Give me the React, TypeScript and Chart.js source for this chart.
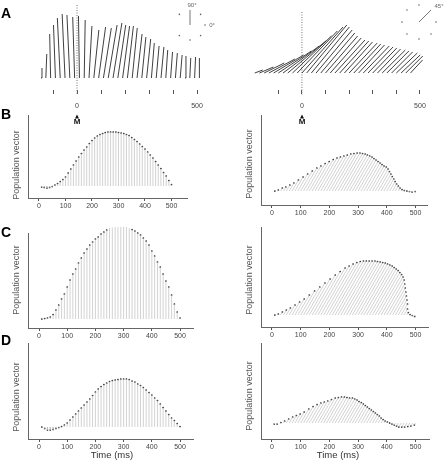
import React, { useEffect, useRef } from 'react';
import { Chart, registerables } from 'chart.js';

Chart.register(...registerables);
Chart.defaults.font.family = "'Liberation Sans', Arial, Helvetica, sans-serif";

// ---------------- DATA ----------------
// base times (ms) of the population vectors in panels B–D
const binTimes = [
  10, 20, 30, 40, 50, 60, 70, 80, 90, 100, 110, 120, 130, 140, 150, 160, 170, 180, 190, 200,
  210, 220, 230, 240, 250, 260, 270, 280, 290, 300, 310, 320, 330, 340, 350, 360, 370, 380, 390, 400,
  410, 420, 430, 440, 450, 460, 470, 480, 490, 500,
];
const xTickValues = [0, 100, 200, 300, 400, 500];

// vector length (arbitrary units) per bin
const bLeftVector = [
  -1, -1.5, -2, -1.5, -0.5, 1, 2.5, 4.5, 6.5, 9, 13, 17, 21, 25, 29, 32.5, 36, 39, 42.5, 45.5,
  48, 50, 51.5, 52.5, 53.5, 54, 54, 54, 54, 53.5, 53, 52.5, 51.5, 50.5, 48.5, 46.5, 44.5, 42, 39.5, 37,
  34, 31, 28, 24.5, 21, 17.5, 13.5, 10, 5.5, 1.5,
];
const bRightVector = [
  0, 1, 3, 4, 6, 8, 11, 14, 17, 20, 23, 25, 27.5, 29.5, 31.5, 33, 34, 35, 36, 37,
  37.5, 38, 38, 37.5, 37, 36, 35, 34, 32.5, 31, 29.5, 28, 26.5, 25, 24, 22, 19.5, 17, 14.5, 12,
  9.5, 7, 5, 3, 1.5, 0.5, 0, -0.5, -1, -0.5,
];
const cLeftVector = [
  0, 0.5, 1, 2, 4.5, 9, 14, 20, 25, 32, 39, 45, 50, 56, 61, 66, 70, 74, 77, 80,
  82, 85, 87, 89, 91, 91.5, 92, 92, 92, 92, 92, 91, 89.5, 88, 86, 84, 81, 78, 74, 68,
  63, 57, 52, 45, 38, 32, 24, 15, 7, 1,
];
const cRightVector = [
  0, 1, 3, 5, 7, 10, 13, 16, 20, 24, 28, 32, 36, 40, 43.5, 47, 49, 51, 52.5, 53.5,
  54, 54, 54, 54, 54, 53.5, 53, 52.5, 52, 51, 50, 49, 47.5, 46, 44.5, 42.5, 40.5, 38, 35, 31,
  27, 23, 19, 15, 11, 6, 2.5, 0.5, -0.5, -1.5,
];
const dLeftVector = [
  0, -1.5, -3, -3, -2.5, -1.5, -0.5, 0.5, 2, 4, 7, 10, 13, 16, 19, 22, 25, 28, 31.5, 35,
  38, 40.5, 42.5, 44, 45.5, 46.5, 47, 47.5, 48, 48, 48, 47.5, 46, 45, 43, 41.5, 39.5, 37, 34.5, 32,
  29, 26.5, 23, 19.5, 16, 12.5, 9, 6.5, 3.5, 0.5,
];
const dRightVector = [
  -1, -1, 0.5, 2, 4, 6, 7.5, 9, 11, 14, 16.5, 18.5, 20, 21, 22, 23.5, 25, 25.5, 26, 26,
  25.5, 25, 25, 24, 23, 21.5, 20.5, 19, 17.5, 16, 14.5, 13, 11.5, 10, 8.5, 7, 5, 3.5, 2, 1,
  0, -1, -2, -3, -4, -4, -4, -3.5, -3, -2,
];

// panel A (single-trial vectors, 20 ms bins)
const rasterTickValues = [-100, 0, 100, 200, 300, 400, 500];
const rasterTickLabels = ['', '0', '', '', '', '', '500'];

const aLeftTimes = [
  -150, -130, -110, -90, -70, -50, -30, -10, 10, 30, 50, 70, 90, 110, 130, 150, 170,
  190, 210, 230, 250, 270, 290, 310, 330, 350, 370, 390, 410, 430, 450, 470, 490, 510,
];
const aLeftHeight = [
  10, 24, 44, 53, 60, 64, 63, 61, 62, 58, 52, 48, 51, 50, 53, 55, 53,
  52, 52, 50, 44, 41, 39, 35, 32, 31, 28, 26, 25, 23, 22, 20, 21, 20,
];
const aLeftShift = [
  4, 4, -4, -8, -12, -12, -12, -8, -4, 4, 12, 21, 29, 33, 37, 37, 33,
  29, 25, 21, 21, 17, 17, 12, 12, 12, 8, 8, 8, 8, 4, 4, 4, 0,
];

const aRightTimes = [
  -200, -180, -160, -140, -120, -100, -80, -60, -40, -20, 0, 20, 40, 60, 80, 100, 120,
  140, 160, 180, 200, 220, 240, 260, 280, 300, 320, 340, 360, 380, 400, 420, 440, 460,
];
const aRightHeight = [
  3, 6, 10, 14, 18, 22, 27, 32, 37, 42, 46, 48, 46, 43, 40, 37, 35,
  33, 32, 31, 30, 29, 28, 27, 26, 25, 24, 23, 22, 21, 20, 18, 17, 13,
];
const aRightShift = [
  34, 59, 85, 110, 127, 140, 153, 161, 165, 170, 174, 170, 161, 153, 144, 136, 131,
  127, 123, 119, 119, 114, 110, 110, 106, 102, 98, 98, 93, 89, 89, 81, 72, 51,
];

const directionLeft = 90; // degrees on screen
const directionRight = 60;

// ---------------- LAYOUT ----------------
type TextItem = {
  text: string; x: number; y: number; font: string; color?: string;
  align?: CanvasTextAlign; baseline?: CanvasTextBaseline; rot?: number;
};
type Compass = { cx: number; cy: number; r: number; pointer: number; skip: number[] };
type Panel = {
  key: string;
  canvas: [number, number, number, number];
  plot: [number, number, number, number];
  x: [number, number];
  y: [number, number];
  times: number[];
  mags: number[];
  shifts?: number[];
  dir?: number;
  raster?: boolean;
  texts: TextItem[];
  compass?: Compass;
  arrowX?: number;
};

const PV = 'Population vector';
const yTitle = (x: number, y: number): TextItem => ({
  text: PV, x, y, font: '9px "Liberation Sans", Arial', color: '#555', rot: -Math.PI / 2,
});
const letter = (t: string, y: number): TextItem => ({
  text: t, x: 1, y, font: 'bold 14px "Liberation Sans", Arial', color: '#000', align: 'left', baseline: 'alphabetic',
});
const markerTexts = (x: number): TextItem[] => [
  { text: 'M', x, y: 122, font: 'bold 8px "Liberation Sans", Arial', color: '#111' },
];
const small = '6px "Liberation Sans", Arial';

const panels: Panel[] = [
  {
    key: 'aL', canvas: [0, 0, 222, 130], plot: [30, 5, 215, 90], x: [-196, 575], y: [-12, 73],
    times: aLeftTimes, mags: aLeftHeight, shifts: aLeftShift, raster: true, arrowX: 77,
    texts: [letter('A', 18), ...markerTexts(77),
      { text: '90°', x: 192, y: 5, font: small, color: '#666' },
      { text: '0°', x: 212, y: 25, font: small, color: '#666' }],
    compass: { cx: 190, cy: 25, r: 15, pointer: 90, skip: [90, 180] },
  },
  {
    key: 'aR', canvas: [222, 0, 223, 130], plot: [250, 12, 440, 90], x: [-220, 585], y: [-17, 61],
    times: aRightTimes, mags: aRightHeight, shifts: aRightShift, raster: true, arrowX: 302,
    texts: [...markerTexts(302), { text: '45°', x: 439, y: 6, font: small, color: '#666' }],
    compass: { cx: 419, cy: 22, r: 17, pointer: 45, skip: [45] },
  },
  {
    key: 'bL', canvas: [0, 103, 222, 115], plot: [28, 115, 187, 198], x: [-41.5, 558.5], y: [-12, 71],
    times: binTimes, mags: bLeftVector, dir: directionLeft,
    texts: [letter('B', 119), yTitle(17, 165)],
  },
  {
    key: 'bR', canvas: [222, 103, 223, 115], plot: [261, 115, 427, 205], x: [-38.3, 540], y: [-14, 76],
    times: binTimes, mags: bRightVector, dir: directionRight,
    texts: [yTitle(250, 164)],
  },
  {
    key: 'cL', canvas: [0, 218, 222, 120], plot: [28, 233, 193, 328], x: [-39, 546], y: [-9, 86],
    times: binTimes, mags: cLeftVector, dir: directionLeft,
    texts: [letter('C', 237), yTitle(17, 280)],
  },
  {
    key: 'cR', canvas: [222, 218, 223, 120], plot: [261, 227, 428, 327], x: [-38.3, 543.5], y: [-12, 88],
    times: binTimes, mags: cRightVector, dir: directionRight,
    texts: [yTitle(250, 280)],
  },
  {
    key: 'dL', canvas: [0, 335, 222, 126], plot: [28, 343, 193, 439], x: [-39, 546], y: [-12, 84],
    times: binTimes, mags: dLeftVector, dir: directionLeft,
    texts: [letter('D', 345), yTitle(17, 397),
      { text: 'Time (ms)', x: 112, y: 455.5, font: '9.5px "Liberation Sans", Arial', color: '#333' }],
  },
  {
    key: 'dR', canvas: [222, 335, 223, 126], plot: [261, 343, 429, 439], x: [-38.3, 547], y: [-16, 80],
    times: binTimes, mags: dRightVector, dir: directionRight,
    texts: [yTitle(250, 396),
      { text: 'Time (ms)', x: 338, y: 455.5, font: '9.5px "Liberation Sans", Arial', color: '#333' }],
  },
];

function decorPlugin(p: Panel) {
  return {
    id: 'decor_' + p.key,
    afterDatasetsDraw(chart: any) {
      const ctx: CanvasRenderingContext2D = chart.ctx;
      const ox = p.canvas[0];
      const oy = p.canvas[1];
      ctx.save();
      if (p.compass) {
        const c = p.compass;
        ctx.fillStyle = '#666';
        for (let a = 0; a < 360; a += 45) {
          if (c.skip.includes(a)) continue;
          const r = (a * Math.PI) / 180;
          ctx.beginPath();
          ctx.arc(c.cx - ox + c.r * Math.cos(r), c.cy - oy - c.r * Math.sin(r), 0.8, 0, Math.PI * 2);
          ctx.fill();
        }
        const pr = (c.pointer * Math.PI) / 180;
        ctx.strokeStyle = '#666';
        ctx.lineWidth = 0.9;
        ctx.beginPath();
        ctx.moveTo(c.cx - ox, c.cy - oy);
        ctx.lineTo(c.cx - ox + c.r * Math.cos(pr), c.cy - oy - c.r * Math.sin(pr));
        ctx.stroke();
      }
      if (p.arrowX !== undefined) {
        const ax = p.arrowX - ox;
        ctx.fillStyle = '#111';
        ctx.beginPath();
        ctx.moveTo(ax, 114.5 - oy);
        ctx.lineTo(ax + 2, 118.5 - oy);
        ctx.lineTo(ax - 2, 118.5 - oy);
        ctx.closePath();
        ctx.fill();
      }
      for (const t of p.texts) {
        ctx.save();
        ctx.font = t.font;
        ctx.fillStyle = t.color || '#000';
        ctx.textAlign = t.align || 'center';
        ctx.textBaseline = t.baseline || 'middle';
        ctx.translate(t.x - ox, t.y - oy);
        if (t.rot) ctx.rotate(t.rot);
        ctx.fillText(t.text, 0, 0);
        ctx.restore();
      }
      ctx.restore();
    },
  };
}

function buildConfig(p: Panel): any {
  const [cx, cy, cw, ch] = p.canvas;
  const [pl, pt, pr, pb] = p.plot;
  const pxPerMs = (pr - pl) / (p.x[1] - p.x[0]);
  const pxPerUnit = (pb - pt) / (p.y[1] - p.y[0]);
  const hatch: { x: number; y: number }[] = [];
  const tips: { x: number; y: number }[] = [];
  p.times.forEach((t, i) => {
    const h = p.mags[i];
    let dx: number;
    if (p.shifts) dx = p.shifts[i];
    else {
      const r = ((p.dir ?? 90) * Math.PI) / 180;
      dx = (h * pxPerUnit * (Math.cos(r) / Math.sin(r))) / pxPerMs;
    }
    hatch.push({ x: t, y: 0 }, { x: t + dx, y: h }, { x: NaN, y: NaN });
    tips.push({ x: t + dx, y: h });
  });

  const datasets: any[] = [
    {
      data: hatch, showLine: true, spanGaps: false, pointRadius: 0, clip: false,
      borderColor: p.raster ? '#2a2a2a' : '#b4b4b4', borderWidth: p.raster ? 0.9 : 0.6,
    },
  ];
  if (!p.raster) {
    datasets.push({
      data: tips, pointRadius: 0.85, pointBackgroundColor: '#222', pointBorderWidth: 0, clip: false,
    });
  } else {
    datasets.push({
      data: [{ x: 0, y: p.y[1] }, { x: 0, y: p.y[0] - 5 }],
      showLine: true, pointRadius: 0, clip: false, borderColor: '#777', borderWidth: 1, borderDash: [1, 1.5],
    });
  }

  const tickValues = p.raster ? rasterTickValues : xTickValues;
  return {
    type: 'scatter',
    data: { datasets },
    plugins: [decorPlugin(p)],
    options: {
      animation: false,
      responsive: false,
      devicePixelRatio: 1,
      events: [],
      layout: { autoPadding: false, padding: { left: 0, top: pt - cy, right: cx + cw - pr, bottom: 0 } },
      plugins: { legend: { display: false }, tooltip: { enabled: false } },
      scales: {
        x: {
          type: 'linear', min: p.x[0], max: p.x[1],
          afterBuildTicks: (s: any) => { s.ticks = tickValues.map((v) => ({ value: v })); },
          afterFit: (s: any) => { s.height = cy + ch - pb; },
          border: { display: !p.raster, color: '#666', width: 1 },
          grid: { display: true, drawOnChartArea: false, drawTicks: true, tickLength: p.raster ? 4 : 3, color: '#555', lineWidth: 1 },
          ticks: {
            autoSkip: false, maxRotation: 0, padding: p.raster ? 8 : 1,
            font: { size: 7 }, color: '#444',
            callback: (v: number, i: number) => (p.raster ? rasterTickLabels[i] : String(xTickValues[i])),
          },
        },
        y: {
          type: 'linear', min: p.y[0], max: p.y[1],
          afterFit: (s: any) => { s.width = pl - cx; },
          ticks: { display: false },
          grid: { display: false },
          border: { display: !p.raster, color: '#666', width: 1 },
        },
      },
    },
  };
}

function PanelChart({ p }: { p: Panel }) {
  const ref = useRef<HTMLCanvasElement>(null);
  useEffect(() => {
    const chart = new Chart(ref.current as HTMLCanvasElement, buildConfig(p));
    return () => chart.destroy();
  }, [p]);
  const [x, y, w, h] = p.canvas;
  return (
    <canvas
      ref={ref}
      width={w}
      height={h}
      style={{ position: 'absolute', left: x, top: y, width: w, height: h }}
    />
  );
}

export default function App() {
  return (
    <div style={{ position: 'fixed', left: 0, top: 0, width: 445, height: 461, background: '#fff', overflow: 'hidden' }}>
      {panels.map((p) => (
        <PanelChart key={p.key} p={p} />
      ))}
    </div>
  );
}
